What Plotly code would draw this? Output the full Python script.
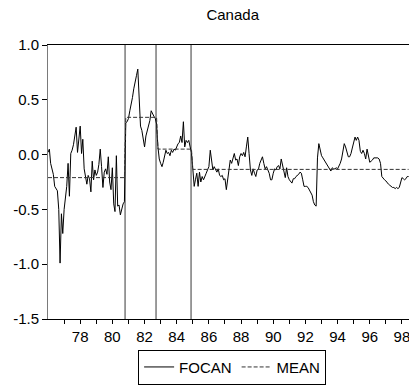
import pandas as pd
import plotly.graph_objects as go

# Monthly FOCAN series, 1976:01 - 1998:06 (one row per year)
focan = [
    0.02, 0.05, -0.08, -0.13, -0.18, -0.29, -0.31, -0.33, -0.50, -0.99, -0.54, -0.72,
    -0.50, -0.40, -0.29, -0.08, -0.38, 0.01, 0.04, 0.09, 0.16, 0.25, 0.02, 0.14,
    0.26, 0.01, 0.14, -0.13, -0.20, -0.27, -0.19, -0.22, -0.34, -0.06, -0.23, -0.14,
    -0.19, -0.16, -0.09, 0.05, -0.11, -0.30, -0.16, -0.13, -0.18, -0.02, -0.25, -0.32,
    -0.12, -0.45, -0.52, -0.01, -0.47, -0.46, -0.55, -0.50, -0.45, -0.43, 0.29, 0.30,
    0.33, 0.40, 0.45, 0.52, 0.60, 0.68, 0.72, 0.78, 0.45, 0.26, 0.22, 0.14,
    0.07, 0.17, 0.21, 0.25, 0.31, 0.40, 0.37, 0.35, 0.33, 0.28, 0.07, -0.04,
    -0.08, -0.11, -0.07, -0.02, 0.04, 0.01, 0.02, -0.01, 0.04, 0.02, 0.05, 0.04,
    0.07, 0.10, 0.11, 0.17, 0.11, 0.30, 0.07, 0.13, 0.11, 0.13, 0.07, 0.02,
    -0.13, -0.29, -0.23, -0.17, -0.29, -0.16, -0.25, -0.20, -0.23, -0.19, -0.17, -0.14,
    -0.11, 0.04, -0.08, -0.14, -0.11, -0.13, -0.16, -0.13, -0.19, -0.20, -0.19, -0.23,
    -0.22, -0.32, -0.24, -0.13, -0.05, -0.08, -0.04, 0.01, -0.05, -0.04, -0.10, -0.02,
    0.01, -0.01, 0.02, -0.02, 0.07, 0.16, 0.01, -0.14, -0.19, -0.13, -0.17, -0.20,
    -0.14, -0.13, -0.08, -0.05, -0.02, -0.08, -0.13, -0.11, -0.14, -0.17, -0.23, -0.23,
    -0.17, -0.13, -0.14, -0.11, -0.10, -0.13, -0.04, -0.11, -0.16, -0.21, -0.12, -0.20,
    -0.23, -0.25, -0.26, -0.22, -0.22, -0.20, -0.19, -0.18, -0.16, -0.17, -0.23, -0.29,
    -0.29, -0.29, -0.30, -0.32, -0.34, -0.37, -0.43, -0.46, -0.47, -0.03, 0.10, 0.05,
    -0.01, -0.03, -0.05, -0.07, -0.09, -0.12, -0.14, -0.15, -0.12, -0.13, -0.13, -0.12,
    -0.13, -0.11, -0.08, -0.04, 0.05, 0.10, 0.07, 0.01, -0.02, -0.02, 0.01, 0.06,
    0.12, 0.16, 0.13, 0.16, 0.13, 0.03, 0.01, 0.04, 0.01, -0.04, 0.05, -0.01,
    -0.07, -0.06, -0.05, -0.03, -0.03, -0.03, -0.03, -0.04, -0.08, -0.20, -0.22, -0.23,
    -0.24, -0.26, -0.27, -0.28, -0.29, -0.30, -0.30, -0.31, -0.30, -0.31, -0.30, -0.26,
    -0.21, -0.22, -0.23, -0.22, -0.20, -0.20,
]

# Regime means and the month each regime begins
regime_starts = ["1976-01-01", "1980-11-01", "1982-11-01", "1985-01-01"]
regime_means = [-0.21, 0.34, 0.05, -0.135]

# Structural break dates (vertical markers)
break_dates = ["1980-10-16", "1982-09-19", "1984-11-22"]

# Axis ticks
y_ticks = [-1.5, -1.0, -0.5, 0.0, 0.5, 1.0]
y_labels = ["-1.5", "-1.0", "-0.5", "0.0", "0.5", "1.0"]
tick_years = list(range(1977, 1999))

months = pd.date_range("1976-01-01", periods=len(focan), freq="MS")
starts = pd.to_datetime(regime_starts)
mean_line = []
for d in months:
    k = max(i for i, s in enumerate(starts) if d >= s)
    mean_line.append(regime_means[k])

x_tickvals = [pd.Timestamp(f"{y}-01-01") for y in tick_years]
x_ticktext = [f"{y % 100:02d}" if y % 2 == 0 else "" for y in tick_years]

font = "Liberation Sans, Arial, sans-serif"

fig = go.Figure()
fig.add_trace(go.Scatter(
    x=months, y=focan, mode="lines", name="FOCAN",
    line=dict(color="black", width=1),
))
fig.add_trace(go.Scatter(
    x=months, y=mean_line, mode="lines", name="MEAN",
    line=dict(color="#333333", width=1, dash="4px,2px"),
))

for bd in break_dates:
    fig.add_shape(type="line", xref="x", yref="paper", x0=bd, x1=bd, y0=0, y1=1,
                  line=dict(color="#7a7a7a", width=1.5), layer="below")

fig.update_layout(
    width=409, height=385,
    margin=dict(l=48, r=0, t=45, b=63),
    paper_bgcolor="white", plot_bgcolor="white",
    font=dict(family=font, size=15, color="black"),
    title=dict(text="Canada", x=0.569, xref="container", xanchor="center",
               y=1 - 15 / 385, yref="container", yanchor="middle",
               font=dict(size=15, family=font, color="black")),
    showlegend=True,
    legend=dict(orientation="h", x=0.51, xanchor="center", y=-0.112, yanchor="top",
                bordercolor="black", borderwidth=1, bgcolor="white",
                font=dict(size=15, family=font), itemwidth=30,
                tracegroupgap=0),
)

fig.update_xaxes(
    type="date", range=["1976-01-01", "1998-06-10"],
    tickvals=x_tickvals, ticktext=x_ticktext,
    ticks="outside", ticklen=4, tickcolor="black",
    ticklabeloverflow="allow",
    showline=True, linecolor="black", linewidth=1, mirror=True,
    showgrid=False, zeroline=False,
    tickfont=dict(size=15, family=font, color="black"),
)
fig.update_yaxes(
    range=[-1.5, 1.0], tickvals=y_ticks, ticktext=y_labels,
    ticks="outside", ticklen=5, tickcolor="black",
    showline=True, linecolor="#7a7a7a", linewidth=1,
    showgrid=False, zeroline=False,
    tickfont=dict(size=15, family=font, color="black"),
)

fig.write_html("out.html")
